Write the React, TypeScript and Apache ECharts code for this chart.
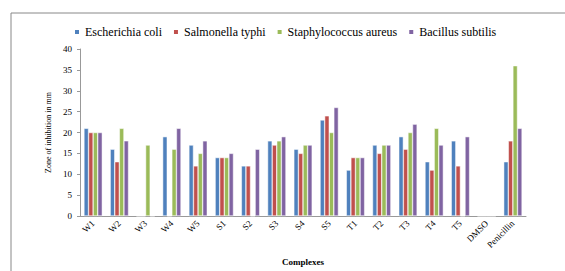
import React, { useEffect, useRef } from "react";
import * as echarts from "echarts";

const categories = ["W1", "W2", "W3", "W4", "W5", "S1", "S2", "S3", "S4", "S5", "T1", "T2", "T3", "T4", "T5", "DMSO", "Penicillin"];
const ecoli = [21, 16, 0, 19, 17, 14, 12, 18, 16, 23, 11, 17, 19, 13, 18, 0, 13];
const styphi = [20, 13, 0, 0, 12, 14, 12, 17, 15, 24, 14, 15, 16, 11, 12, 0, 18];
const saureus = [20, 21, 17, 16, 15, 14, 0, 18, 17, 20, 14, 17, 20, 21, 0, 0, 36];
const bsubtilis = [20, 18, 0, 21, 18, 15, 16, 19, 17, 26, 14, 17, 22, 17, 19, 0, 21];
const seriesNames = ["Escherichia coli", "Salmonella typhi", "Staphylococcus aureus", "Bacillus subtilis"];
const colors = ["#4F81BD", "#C0504D", "#9BBB59", "#8064A2"];

const FONT = "Times New Roman, Liberation Serif, serif";

export default function App() {
  const ref = useRef<HTMLDivElement>(null);
  useEffect(() => {
    if (!ref.current) return;
    const chart = echarts.init(ref.current, undefined, { renderer: "svg" });
    const data = [ecoli, styphi, saureus, bsubtilis];
    chart.setOption({
      animation: false,
      color: colors,
      textStyle: { fontFamily: FONT },
      graphic: [
        { type: "line", shape: { x1: 11, y1: 13, x2: 565, y2: 13 }, style: { stroke: "#888", lineWidth: 1 } },
        { type: "line", shape: { x1: 11, y1: 13, x2: 11, y2: 271 }, style: { stroke: "#888", lineWidth: 1 } },
      ],
      legend: {
        top: 21,
        left: 68,
        itemWidth: 6,
        itemHeight: 6,
        itemGap: 10,
        icon: "rect",
        textStyle: { fontFamily: FONT, fontSize: 12, color: "#000" },
        data: seriesNames,
      },
      grid: { left: 80, top: 49, width: 446, height: 169, containLabel: false },
      xAxis: {
        type: "category",
        data: categories,
        name: "Complexes",
        nameLocation: "middle",
        nameGap: 41,
        nameTextStyle: { fontFamily: FONT, fontSize: 9, fontWeight: "bold", color: "#000" },
        axisLine: { lineStyle: { color: "#999" } },
        axisTick: { show: false },
        axisLabel: { rotate: 45, fontFamily: FONT, fontSize: 9, color: "#000", margin: 6, interval: 0 },
      },
      yAxis: {
        type: "value",
        min: 0,
        max: 40,
        interval: 5,
        name: "Zone of inhibition in mm",
        nameLocation: "middle",
        nameGap: 27,
        nameTextStyle: { fontFamily: FONT, fontSize: 8, color: "#000" },
        axisLine: { show: true, lineStyle: { color: "#999" } },
        axisTick: { show: true, length: 3, lineStyle: { color: "#999" } },
        splitLine: { show: false },
        axisLabel: { fontFamily: FONT, fontSize: 9, color: "#000", margin: 8 },
      },
      series: seriesNames.map((name, i) => ({
        name,
        type: "bar",
        data: data[i],
        barGap: "0%",
        barCategoryGap: "30%",
        itemStyle: { color: colors[i], borderColor: "#fff", borderWidth: 0.5 },
      })),
    });
    return () => chart.dispose();
  }, []);
  return <div ref={ref} style={{ width: 565, height: 271, position: "absolute", left: 0, top: 0 }} />;
}
